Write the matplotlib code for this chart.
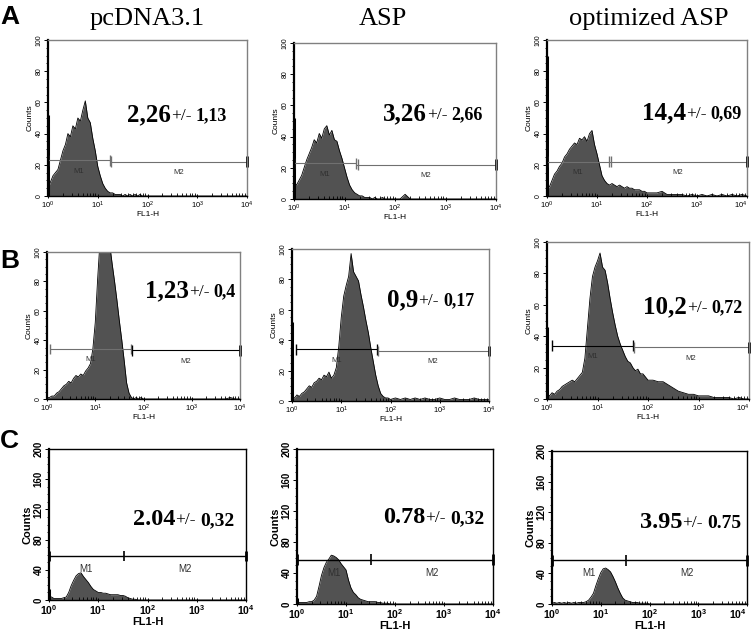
import numpy as np
import matplotlib.pyplot as plt
from matplotlib.ticker import LogLocator, NullFormatter, MultipleLocator

plt.rcParams['font.family'] = ['Liberation Sans', 'DejaVu Sans']
plt.rcParams['mathtext.default'] = 'regular'

W, H = 754, 630
SERIF = 'Liberation Serif'

# FL1-H channel positions (log10): 0.05 decade steps up to 10^2, then 0.1 steps to 10^4
log_fl = np.round(np.concatenate([np.arange(0, 2.001, 0.05), np.arange(2.1, 4.001, 0.1)]), 2)

columns = ['pcDNA3.1', 'ASP', 'optimized ASP']
rows = ['A', 'B', 'C']

# counts (41 values up to 10^2 + 20 tail values)
a_pcdna = [5, 9, 13, 15, 17, 23, 29, 33, 40, 38, 45, 43, 50, 48, 55, 61, 50, 47, 37, 29,
           19, 13, 8, 5, 3, 2, 2, 1, 1, 1, 0, 1, 0, 1, 0, 1, 0, 1, 0, 0, 0] + [0] * 20
a_asp = [10, 9, 12, 15, 20, 25, 29, 33, 38, 36, 42, 39, 45, 47, 41, 44, 38, 37, 31, 26,
         20, 14, 9, 6, 4, 3, 2, 2, 1, 1, 1, 0, 1, 0, 0, 1, 0, 0, 0, 0, 0] + \
        [0, 3, 0, 0, 0, 0, 0, 0, 0, 0, 0, 0, 0, 0, 0, 0, 0, 0, 0, 0]
a_opt = [4, 6, 10, 14, 16, 19, 21, 25, 27, 30, 32, 34, 33, 37, 36, 38, 35, 40, 42, 33,
         27, 20, 13, 10, 8, 7, 8, 7, 6, 7, 6, 5, 6, 5, 5, 4, 4, 4, 3, 3, 2] + \
        [2, 2, 3, 1, 1, 1, 1, 0, 1, 0, 1, 0, 1, 0, 1, 0, 1, 0, 1, 0]
b_pcdna = [1, 1, 2, 2, 4, 5, 7, 9, 10, 12, 11, 14, 16, 15, 17, 16, 19, 21, 24, 34,
           52, 82, 108, 125, 130, 120, 105, 92, 80, 67, 53, 40, 26, 11, 4, 1, 0, 1, 0, 1, 0] + \
          [0, 0, 0, 0, 0, 0, 0, 0, 0, 0, 0, 0, 0, 0, 0, 0, 0, 1, 0, 0]
b_asp = [2, 2, 4, 3, 5, 6, 8, 10, 9, 12, 13, 15, 14, 17, 16, 19, 15, 17, 22, 36,
         55, 69, 76, 82, 97, 85, 82, 79, 70, 62, 53, 45, 35, 26, 17, 10, 5, 3, 2, 2, 1] + \
        [2, 1, 2, 1, 2, 1, 2, 1, 1, 2, 1, 1, 2, 1, 1, 1, 2, 1, 1, 1]
b_opt = [3, 2, 4, 3, 5, 6, 8, 9, 10, 11, 12, 11, 13, 15, 17, 26, 45, 64, 78, 84,
         88, 93, 84, 82, 74, 64, 55, 47, 40, 35, 31, 27, 24, 23, 20, 18, 19, 16, 16, 14, 12] + \
        [12, 11, 11, 9, 7, 5, 4, 3, 3, 2, 2, 2, 1, 1, 1, 1, 0, 1, 0, 0]
c_pcdna = [4, 4, 2, 2, 2, 2, 3, 4, 10, 19, 26, 32, 35, 36, 31, 27, 23, 18, 14, 12,
           10, 10, 9, 9, 8, 7, 7, 7, 7, 6, 6, 5, 3, 2, 1, 1, 0, 0, 0, 0, 0] + [0] * 20
c_asp = [3, 2, 2, 2, 2, 3, 3, 5, 10, 23, 37, 47, 54, 58, 63, 62, 60, 57, 52, 48,
         44, 31, 21, 15, 12, 8, 6, 5, 4, 3, 3, 3, 3, 2, 2, 1, 1, 1, 0, 0, 0] + [0] * 20
c_opt = [1, 2, 1, 2, 1, 2, 1, 2, 1, 2, 1, 2, 2, 2, 3, 5, 9, 14, 24, 33,
         41, 46, 47, 45, 42, 36, 29, 21, 14, 8, 5, 4, 3, 2, 2, 2, 1, 1, 1, 1, 0] + [0] * 20

counts = [a_pcdna, a_asp, a_opt, b_pcdna, b_asp, b_opt, c_pcdna, c_asp, c_opt]
first_channel = [52, 52, 90, 0, 52, 46, 14, 8, 0]
y_max = [100, 100, 100, 100, 100, 100, 200, 200, 200]

# M1 / M2 gates
m1_start = [1.0, 1.0, 1.0, 1.17, 1.2, 1.26, 1.0, 1.0, 1.0]
m_split = [17.5, 17.0, 17.5, 55.0, 52.0, 50.0, 33.0, 33.0, 33.0]
m1_level = [23, 23, 22, 34, 34, 34, 58, 57, 57]
m2_level = [22, 22, 22, 33, 33, 33, 58, 57, 57]

# mean +/- sd
stat_mean = ['2,26', '3,26', '14,4', '1,23', '0,9', '10,2', '2.04', '0.78', '3.95']
stat_sd = ['1,13', '2,66', '0,69', '0,4', '0,17', '0,72', '0,32', '0,32', '0.75']

# panel boxes in pixels: left, right, top, bottom
boxes = [(48, 247, 40, 196), (294, 496, 43, 199), (547, 747, 40, 196),
         (47, 240, 252, 399), (292, 489, 249, 401), (547, 749, 242, 399),
         (49, 246, 449, 600), (297, 493, 449, 604), (552, 747, 451, 604)]
# stats text start (x, baseline y) in pixels
stat_pos = [(127, 121), (383, 120), (642, 119), (145, 297), (387, 306), (643, 313),
            (133, 525), (383, 523), (640, 528)]

fig = plt.figure(figsize=(W / 100, H / 100), dpi=100)

x = 10.0 ** log_fl
for i in range(9):
    l, r, t, b = boxes[i]
    ax = fig.add_axes([l / W, 1 - b / H, (r - l) / W, (b - t) / H])
    row_c = i >= 6
    frame = 'black' if row_c else '#808080'
    ymax = y_max[i]

    ax.fill_between(x, counts[i], color='#525252', lw=0)
    ax.plot(x, counts[i], color='black', lw=0.6)
    if first_channel[i]:
        ax.vlines(1.0, 0, first_channel[i], color='black', lw=2.2)

    # gates
    gcol1 = 'black' if (row_c or i in (4, 5)) else '#707070'
    gcol2 = 'black' if (row_c or i == 3) else '#707070'
    lw = 1.0 if row_c else 0.8
    tick_h = ymax * 0.035
    ax.hlines(m1_level[i], m1_start[i], m_split[i], color=gcol1, lw=lw)
    ax.hlines(m2_level[i], m_split[i], 1e4, color=gcol2, lw=lw)
    ax.vlines(m1_start[i], m1_level[i] - tick_h, m1_level[i] + tick_h, color=gcol1,
              lw=2 if row_c else 1, clip_on=False)
    ax.vlines(m_split[i], m1_level[i] - tick_h, m1_level[i] + tick_h, color=gcol1, lw=lw * 1.2)
    if not row_c:
        ax.vlines(m_split[i] * 1.07, m2_level[i] - tick_h, m2_level[i] + tick_h, color=gcol2, lw=lw * 1.2)
    ax.vlines(1e4, m2_level[i] - tick_h, m2_level[i] + tick_h, color='black', lw=2, clip_on=False)
    mfs = 7 if row_c else 5.5
    c1 = 10 ** (np.log10(m1_start[i]) / 2 + np.log10(m_split[i]) / 2)
    c2 = 10 ** (np.log10(m_split[i]) / 2 + 2)
    ax.text(c1, m1_level[i] - ymax * 0.05, 'M1', fontsize=mfs, ha='center', va='top', color='#303030')
    ax.text(c2, m2_level[i] - ymax * 0.05, 'M2', fontsize=mfs, ha='center', va='top', color='#303030')

    # axes
    ax.set_xscale('log')
    ax.set_xlim(1, 1e4)
    ax.set_ylim(0, ymax)
    ax.set_xticks([1, 10, 100, 1000, 10000])
    ax.set_xticklabels([r'10$^{%d}$' % k for k in range(5)])
    ax.xaxis.set_minor_locator(LogLocator(base=10, subs=range(2, 10)))
    ax.xaxis.set_minor_formatter(NullFormatter())
    step = 40 if row_c else 20
    ax.set_yticks(range(0, ymax + 1, step))
    ax.yaxis.set_minor_locator(MultipleLocator(step / 4))
    tfs = 7.5 if row_c else 5.5
    tw = 'bold' if row_c else 'normal'
    ax.tick_params(axis='x', which='major', direction='inout', length=3, width=0.7,
                   labelsize=tfs, pad=1)
    ax.tick_params(axis='x', which='minor', direction='in', length=2, width=0.6)
    ax.tick_params(axis='y', which='major', direction='out', length=3, width=0.7,
                   labelsize=tfs - 0.5, pad=1)
    ax.tick_params(axis='y', which='minor', direction='out', length=1.5, width=0.6)
    for lab in ax.get_yticklabels():
        lab.set_rotation(90)
        lab.set_va('center')
        lab.set_fontweight(tw)
    for lab in ax.get_xticklabels():
        lab.set_fontweight(tw)
    if r > 740:
        # keep the last decade label inside the picture
        ax.get_xticklabels()[-1].set_ha('right')
    ax.set_xlabel('FL1-H', fontsize=tfs + 0.5, fontweight=tw, labelpad=0)
    ax.set_ylabel('Counts', fontsize=tfs + 0.5, fontweight=tw, labelpad=1)
    ax.spines['left'].set_linewidth(1.6)
    ax.spines['left'].set_color('black')
    ax.spines['bottom'].set_linewidth(1.0)
    ax.spines['bottom'].set_color('black')
    for s in ('top', 'right'):
        ax.spines[s].set_color(frame)
        ax.spines[s].set_linewidth(1.0)

    # mean +/- sd
    px, py = stat_pos[i]
    s1, s2, s3 = (17.5, 12.5, 14) if row_c else (18, 12.5, 13)
    t1 = ax.text(px / W, 1 - py / H, stat_mean[i], transform=fig.transFigure, family=SERIF,
                 fontweight='bold', fontsize=s1, va='baseline', ha='left')
    t2 = ax.annotate('+/-', xy=(1, 0), xycoords=t1, xytext=(0, 0.217 * (s1 - s2)),
                     textcoords='offset points', family=SERIF, fontsize=s2, va='bottom',
                     ha='left', annotation_clip=False)
    ax.annotate(stat_sd[i], xy=(1, 0), xycoords=t2, xytext=(3, 0.217 * (s2 - s3)),
                textcoords='offset points', family=SERIF, fontweight='bold', fontsize=s3,
                va='bottom', ha='left', annotation_clip=False)

# column titles and row letters
for name, cx in zip(columns, [147, 383, 649]):
    fig.text(cx / W, 1 - 25 / H, name, family=SERIF, fontsize=19, ha='center', va='baseline')
for letter, by in zip(rows, [24, 268, 448]):
    fig.text(0 / W, 1 - by / H, letter, fontsize=19, fontweight='bold', ha='left', va='baseline')

fig.savefig('out.png', dpi=100)
